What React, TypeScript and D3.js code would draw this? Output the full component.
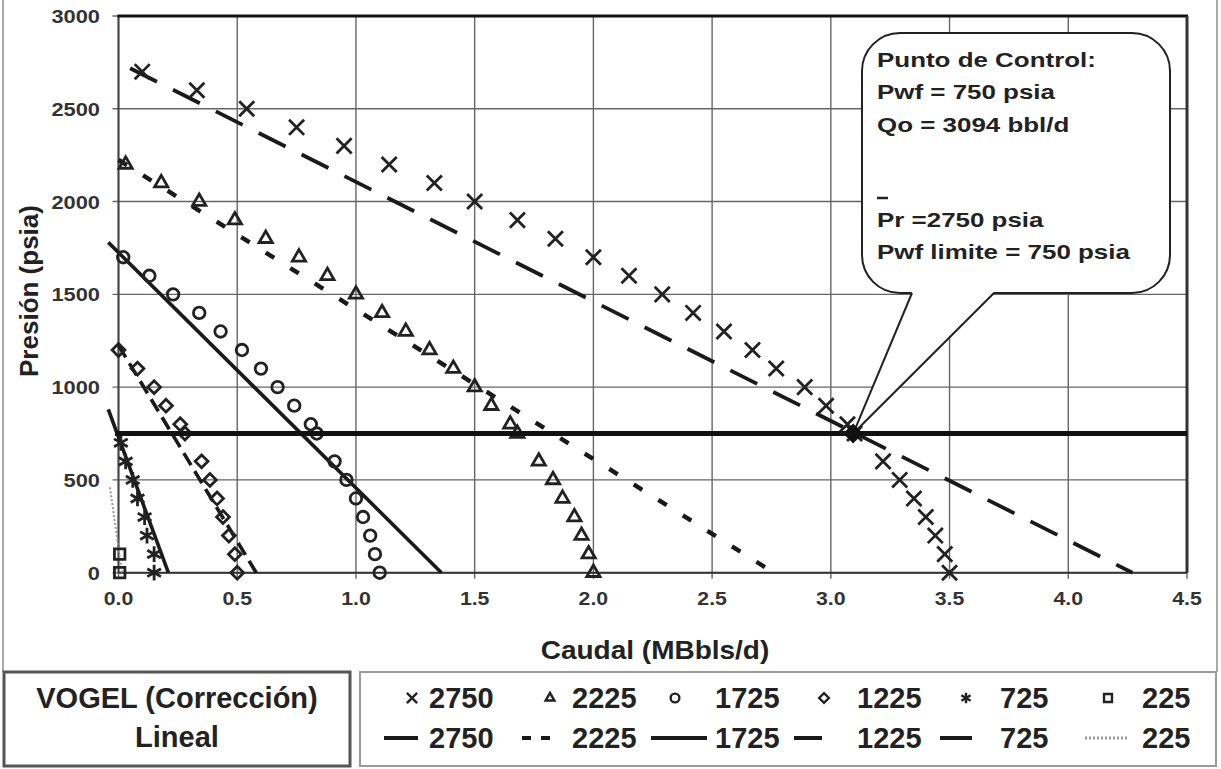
import React from 'react';
import * as d3 from 'd3';

// Vogel (con corrección) points: caudal in MBbls/d, presión in psia
const vogel2750Q = [0.10, 0.33, 0.54, 0.75, 0.95, 1.14, 1.33, 1.50, 1.68, 1.84, 2.00, 2.15, 2.29, 2.42, 2.55, 2.67, 2.77, 2.89, 2.98, 3.07, 3.10, 3.22, 3.29, 3.35, 3.40, 3.44, 3.48, 3.50];
const vogel2750P = [2700, 2600, 2500, 2400, 2300, 2200, 2100, 2000, 1900, 1800, 1700, 1600, 1500, 1400, 1300, 1200, 1100, 1000, 900, 800, 750, 600, 500, 400, 300, 200, 100, 0];
const vogel2225Q = [0.03, 0.18, 0.34, 0.49, 0.62, 0.76, 0.88, 1.00, 1.11, 1.21, 1.31, 1.41, 1.50, 1.57, 1.65, 1.68, 1.77, 1.83, 1.87, 1.92, 1.95, 1.98, 2.00];
const vogel2225P = [2200, 2100, 2000, 1900, 1800, 1700, 1600, 1500, 1400, 1300, 1200, 1100, 1000, 900, 800, 750, 600, 500, 400, 300, 200, 100, 0];
const vogel1725Q = [0.02, 0.13, 0.23, 0.34, 0.43, 0.52, 0.60, 0.67, 0.74, 0.81, 0.835, 0.91, 0.96, 1.00, 1.03, 1.06, 1.08, 1.10];
const vogel1725P = [1700, 1600, 1500, 1400, 1300, 1200, 1100, 1000, 900, 800, 750, 600, 500, 400, 300, 200, 100, 0];
const vogel1225Q = [0.00, 0.08, 0.15, 0.20, 0.26, 0.28, 0.35, 0.385, 0.415, 0.44, 0.465, 0.49, 0.50];
const vogel1225P = [1200, 1100, 1000, 900, 800, 750, 600, 500, 400, 300, 200, 100, 0];
const vogel725Q = [0.01, 0.03, 0.06, 0.08, 0.11, 0.12, 0.15, 0.15];
const vogel725P = [700, 600, 500, 400, 300, 200, 100, 0];
const vogel225Q = [0.005, 0.005];
const vogel225P = [100, 0];

// Lineal IPR lines (end points)
const lin2750Q = [0, 4.27];
const lin2750P = [2750, 0];
const lin2225Q = [0, 2.76];
const lin2225P = [2225, 0];
const lin1725Q = [-0.043, 1.36];
const lin1725P = [1780, 0];
const lin1225Q = [0, 0.58];
const lin1225P = [1225, 0];
const lin725Q = [-0.043, 0.21];
const lin725P = [880, 0];
const lin225Q = [-0.036, 0.015];
const lin225P = [460, 0];

const pwfLimitQ = [-0.015, 4.5];
const pwfLimitP = [750, 750];
const controlQ = 3.094;
const controlP = 750;

const seriesLabels = ['2750', '2225', '1725', '1225', '725', '225'];
const calloutLines = ['Punto de Control:', 'Pwf = 750 psia', 'Qo = 3094 bbl/d', 'Pr =2750 psia', 'Pwf limite = 750 psia'];

const W = 1221;
const H = 769;
const left = 118.5, right = 1187, top = 16, bottom = 572.7;
const FONT = '"Liberation Sans", Arial, sans-serif';
const INK = '#222';

const zip = (q: number[], p: number[]) => q.map((v, i) => [v, p[i]] as [number, number]);

export default function App() {
  const x = d3.scaleLinear().domain([0, 4.5]).range([left, right]);
  const y = d3.scaleLinear().domain([0, 3000]).range([bottom, top]);
  const line = d3.line<[number, number]>().x(d => x(d[0])).y(d => y(d[1]));

  const vogel = [
    { q: vogel2750Q, p: vogel2750P, type: d3.symbolTimes, size: 150, lsize: 70 },
    { q: vogel2225Q, p: vogel2225P, type: d3.symbolTriangle2, size: 125, lsize: 55 },
    { q: vogel1725Q, p: vogel1725P, type: d3.symbolCircle, size: 105, lsize: 60 },
    { q: vogel1225Q, p: vogel1225P, type: d3.symbolDiamond2, size: 105, lsize: 60 },
    { q: vogel725Q, p: vogel725P, type: d3.symbolAsterisk, size: 175, lsize: 80 },
    { q: vogel225Q, p: vogel225P, type: d3.symbolSquare2, size: 140, lsize: 80 },
  ];

  const lineal = [
    { q: lin2750Q, p: lin2750P, dash: '30,18', offset: 35, w: 3.8, color: '#1a1a1a' },
    { q: lin2225Q, p: lin2225P, dash: '10,19', offset: 0, w: 4.4, color: '#1a1a1a' },
    { q: lin1725Q, p: lin1725P, dash: 'none', offset: 0, w: 3.6, color: '#1a1a1a' },
    { q: lin1225Q, p: lin1225P, dash: '14,7', offset: 0, w: 3.6, color: '#1a1a1a' },
    { q: lin725Q, p: lin725P, dash: 'none', offset: 0, w: 3.6, color: '#1a1a1a' },
    { q: lin225Q, p: lin225P, dash: '2,2', offset: 0, w: 2, color: '#999' },
  ];

  const xTicks = x.ticks(9);
  const yTicks = y.ticks(6);

  // legend columns
  const textX = [429, 572, 715, 857, 1000, 1142];
  const markX = [412, 550, 675, 824, 966, 1108];
  const sampleX: [number, number][] = [[384, 418], [522, 558], [651, 707], [794, 822], [940, 972], [1085, 1127]];

  return (
    <svg width={W} height={H} style={{ position: 'absolute', left: 0, top: 0, background: '#fff' }}>
      <rect width={W} height={H} fill="#fff" />
      {/* outer frame */}
      <line x1={3} x2={3} y1={0} y2={672} stroke="#aaa" strokeWidth={2} />
      <line x1={1217} x2={1217} y1={0} y2={672} stroke="#aaa" strokeWidth={2} />

      {/* grid */}
      {xTicks.map(t => (
        <line key={'gx' + t} x1={x(t)} x2={x(t)} y1={top} y2={bottom + 6} stroke="#666" strokeWidth={1.4} />
      ))}
      {yTicks.map(t => (
        <line key={'gy' + t} x1={left - 6} x2={right} y1={y(t)} y2={y(t)} stroke="#666" strokeWidth={1.4} />
      ))}
      <line x1={left} x2={left} y1={top} y2={bottom} stroke="#444" strokeWidth={2} />
      <line x1={left} x2={right} y1={bottom} y2={bottom} stroke="#333" strokeWidth={2} />
      <line x1={left - 1} x2={right + 1} y1={top} y2={top} stroke="#111" strokeWidth={3} />
      <line x1={right} x2={right} y1={top} y2={bottom} stroke="#333" strokeWidth={3} />

      {/* tick labels */}
      {yTicks.map(t => (
        <text key={'ty' + t} transform={`translate(100,${y(t) + 7}) scale(1.15,1)`} textAnchor="end"
          fontFamily={FONT} fontWeight="bold" fontSize={19} fill="#333">{t}</text>
      ))}
      {xTicks.map(t => (
        <text key={'tx' + t} transform={`translate(${x(t)},605) scale(1.12,1)`} textAnchor="middle"
          fontFamily={FONT} fontWeight="bold" fontSize={19} fill="#333">{d3.format('.1f')(t)}</text>
      ))}
      <text transform="translate(655,659) scale(1.12,1)" textAnchor="middle" fontFamily={FONT}
        fontWeight="bold" fontSize={25} fill={INK}>Caudal (MBbls/d)</text>
      <text transform="translate(38,291) rotate(-90)" textAnchor="middle" fontFamily={FONT}
        fontWeight="bold" fontSize={26} fill={INK}>Presión (psia)</text>

      {/* lineal lines */}
      {lineal.map((s, i) => (
        <path key={'l' + i} d={line(zip(s.q, s.p)) || ''} fill="none" stroke={s.color} strokeWidth={s.w}
          strokeDasharray={s.dash} strokeDashoffset={s.offset} />
      ))}

      {/* vogel markers */}
      {vogel.map((s, i) => {
        const sym = d3.symbol(s.type, s.size)();
        return (
          <g key={'v' + i}>
            {zip(s.q, s.p).map((d, j) => (
              <path key={j} d={sym || ''} transform={`translate(${x(d[0])},${y(d[1])})`}
                fill="none" stroke={INK} strokeWidth={2.8} />
            ))}
          </g>
        );
      })}

      {/* Pwf limite */}
      <path d={line(zip(pwfLimitQ, pwfLimitP)) || ''} stroke="#111" strokeWidth={5} fill="none" />

      {/* callout */}
      <rect x={862} y={33} width={308} height={260} rx={38} ry={38} fill="#fff" stroke={INK} strokeWidth={2} />
      <polygon points={`912,292 ${x(controlQ)},${y(controlP)} 994,292`} fill="#fff" stroke="none" />
      <polyline points={`912,293 ${x(controlQ)},${y(controlP)} 994,293`} fill="none" stroke={INK} strokeWidth={2} />
      <path d={d3.symbol(d3.symbolSquare, 200)() || ''}
        transform={`translate(${x(controlQ)},${y(controlP)}) rotate(45)`} fill="#111" />
      {calloutLines.map((t, i) => (
        <text key={'c' + i} transform={`translate(877,${[67, 98.5, 131.5, 227, 258.5][i]}) scale(1.33,1)`}
          fontFamily={FONT} fontWeight="bold" fontSize={19.5} fill={INK}>{t}</text>
      ))}
      <line x1={877} x2={888} y1={198} y2={198} stroke={INK} strokeWidth={2.5} />

      {/* legend */}
      <rect x={4} y={672} width={346} height={94} fill="#fff" stroke="#555" strokeWidth={3} />
      <text x={177} y={708} textAnchor="middle" fontFamily={FONT} fontWeight="bold" fontSize={29} fill={INK}>VOGEL (Corrección)</text>
      <text x={177} y={747} textAnchor="middle" fontFamily={FONT} fontWeight="bold" fontSize={29} fill={INK}>Lineal</text>
      <rect x={360} y={672} width={856} height={94} fill="#fff" stroke="#999" strokeWidth={2} />
      {seriesLabels.map((lab, i) => {
        const s = vogel[i];
        const l = lineal[i];
        return (
          <g key={'lg' + i}>
            <path d={d3.symbol(s.type, s.lsize)() || ''} transform={`translate(${markX[i]},698)`}
              fill="none" stroke={INK} strokeWidth={2.4} />
            <text x={textX[i]} y={708} fontFamily={FONT} fontWeight="bold" fontSize={29} fill={INK}>{lab}</text>
            <line x1={sampleX[i][0]} x2={sampleX[i][1]} y1={738} y2={738} stroke={l.color}
              strokeWidth={i === 5 ? 3 : 4} strokeDasharray={i === 1 ? '9,10' : i === 5 ? '2,2' : 'none'} />
            <text x={textX[i]} y={748} fontFamily={FONT} fontWeight="bold" fontSize={29} fill={INK}>{lab}</text>
          </g>
        );
      })}
    </svg>
  );
}
